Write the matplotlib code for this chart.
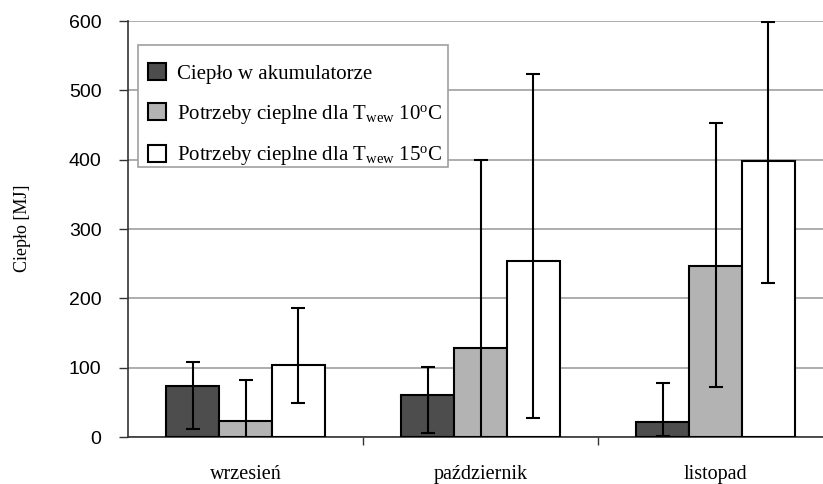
import numpy as np
import matplotlib
matplotlib.use("Agg")
import matplotlib.pyplot as plt
from matplotlib.patches import Rectangle

# data
months = ["wrzesień", "październik", "listopad"]

heat_acc = [73, 60, 22]
heat_acc_hi = [108, 101, 78]
heat_acc_lo = [12, 6, 1]

need_10 = [23, 128, 246]
need_10_hi = [82, 400, 453]
need_10_lo = [-36, -144, 72]

need_15 = [104, 254, 398]
need_15_hi = [186, 523, 598]
need_15_lo = [49, 27, 222]

labels = [
    "Ciepło w akumulatorze",
    r"Potrzeby cieplne dla T$_{\mathrm{wew}}$ 10$^{\mathrm{o}}$C",
    r"Potrzeby cieplne dla T$_{\mathrm{wew}}$ 15$^{\mathrm{o}}$C",
]
colors = ["#4d4d4d", "#b3b3b3", "#ffffff"]

plt.rcParams["mathtext.fontset"] = "custom"
plt.rcParams["mathtext.rm"] = "Liberation Serif"
plt.rcParams["mathtext.it"] = "Liberation Serif:italic"

serif = "Liberation Serif"
sans = "Liberation Sans"

W, H = 823, 484
fig = plt.figure(figsize=(W / 100, H / 100), dpi=100)
ax = fig.add_axes([128 / W, (H - 437) / H, 705 / W, 416 / H])

x = np.arange(len(months))
width = 0.225
series = [
    (heat_acc, heat_acc_hi, heat_acc_lo),
    (need_10, need_10_hi, need_10_lo),
    (need_15, need_15_hi, need_15_lo),
]

for i, (vals, hi, lo) in enumerate(series):
    vals = np.array(vals, dtype=float)
    yerr = [vals - np.array(lo), np.array(hi) - vals]
    ax.bar(
        x + (i - 1) * width,
        vals,
        width,
        color=colors[i],
        edgecolor="black",
        linewidth=1.5,
        label=labels[i],
        yerr=yerr,
        error_kw=dict(ecolor="black", elinewidth=1.5, capsize=5, capthick=1.5),
        zorder=3,
    )

ax.set_xlim(-0.5, 2.5)
ax.set_ylim(0, 600)
ax.set_yticks(range(0, 601, 100))
ax.yaxis.grid(True, color="#a0a0a0", linewidth=1.2)
ax.set_axisbelow(True)

for s in ["top", "right"]:
    ax.spines[s].set_visible(False)
ax.spines["left"].set_color("#333333")
ax.spines["left"].set_linewidth(1.2)
ax.spines["bottom"].set_color("#333333")
ax.spines["bottom"].set_linewidth(1.2)

ax.set_xticks(x)
ax.set_xticklabels(months, fontfamily=serif, fontsize=14.5)
ax.set_xticks([0.5, 1.5], minor=True)
ax.tick_params(axis="x", which="major", length=0, pad=20)
ax.tick_params(axis="x", which="minor", length=6, width=1, color="#333333")
ax.tick_params(axis="y", length=6.5, width=1, color="#333333", pad=12.5)
for t in ax.get_yticklabels():
    t.set_fontfamily(sans)
    t.set_fontsize(14)

fig.text(23 / W, 1 - 228 / H, "Ciepło [MJ]", rotation=90, ha="center", va="center",
         fontfamily=serif, fontsize=13)

# legend frame drawn separately (text sits low in the box in the original)
frame = Rectangle((138 / W, 1 - 167 / H), 310 / W, 122 / H, transform=fig.transFigure,
                  facecolor="white", edgecolor="#a0a0a0", linewidth=1.2,
                  zorder=4, clip_on=False)
ax.add_patch(frame)

leg = ax.legend(
    loc="upper left",
    bbox_to_anchor=(138 / W, 1 - 53 / H),
    bbox_transform=fig.transFigure,
    prop={"family": serif, "size": 15},
    frameon=False,
    handlelength=0.85,
    handleheight=0.85,
    handletextpad=0.5,
    labelspacing=0.9,
    borderpad=0.5,
    borderaxespad=0,
)
leg.set_zorder(5)

fig.savefig("out.png", dpi=100)
